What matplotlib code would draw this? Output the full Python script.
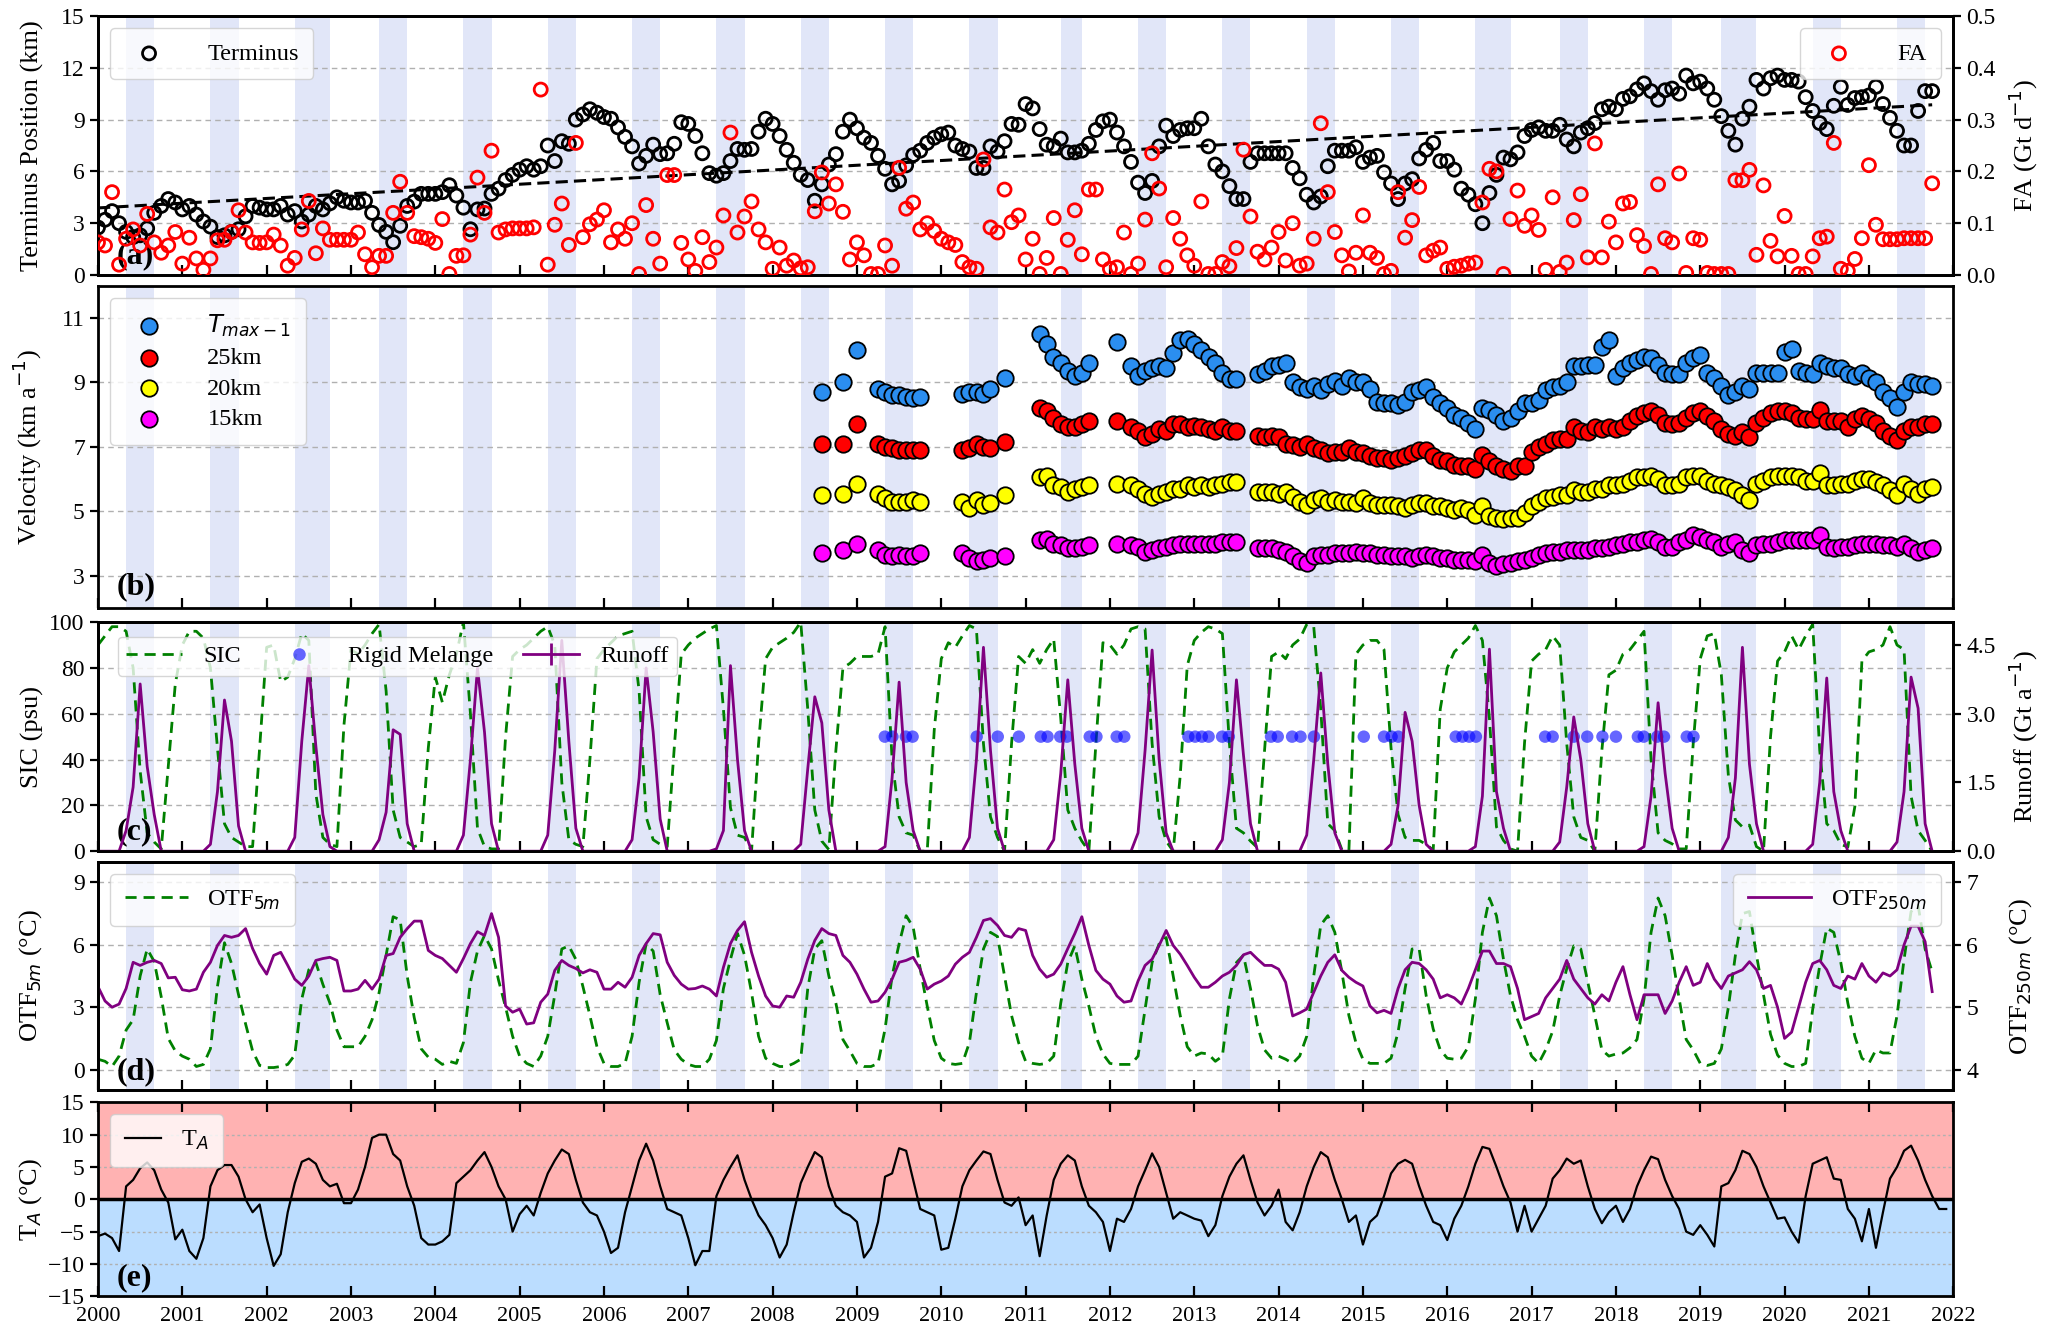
"""Five-panel glacier time series (terminus/FA, velocity, SIC/runoff, ocean temp, air temp)."""

import matplotlib
matplotlib.use("Agg")
import matplotlib.pyplot as plt
from matplotlib.lines import Line2D
import numpy as np

plt.rcParams["font.family"] = "serif"
plt.rcParams["font.serif"] = ["Liberation Serif", "DejaVu Serif"]
plt.rcParams["mathtext.fontset"] = "dejavusans"

START_YEAR = 2000
YEARS = list(range(2000, 2022))

# melt-season shading (first/last month, 1-based) per year
band_first_month = [5, 5, 5, 5, 5, 5, 5, 5, 5, 5, 5, 6, 5, 5, 5, 5, 5, 5, 5, 4, 5, 5]
band_last_month = [8, 8, 9, 8, 8, 8, 8, 8, 8, 8, 8, 8, 8, 8, 8, 8, 9, 8, 8, 8, 8, 8]

# (a) terminus position (km), monthly from Jan 2000
terminus = [
    2.75, 3.2, 3.7, 3.0, 2.5, 2.2, 2.3, 2.7, 3.6, 4.0, 4.4, 4.2,
    3.8, 4.0, 3.5, 3.1, 2.8, 2.2, 2.3, 2.5, 2.65, 3.4, 4.0, 3.9,
    3.8, 3.8, 4.0, 3.5, 3.7, 3.1, 3.5, 4.0, 3.8, 4.15, 4.5, 4.3,
    4.2, 4.2, 4.3, 3.6, 2.9, 2.5, 1.9, 2.85, 4.0, 4.25, 4.7, 4.7,
    4.7, 4.8, 5.2, 4.6, 3.9, 2.65, 3.8, 3.85, 4.7, 5.0, 5.5, 5.8,
    6.1, 6.3, 6.1, 6.3, 7.5, 6.6, 7.75, 7.6, 9.0, 9.3, 9.6, 9.4,
    9.15, 9.05, 8.55, 8.0, 7.45, 6.45, 6.9, 7.55, 7.0, 7.05, 7.6, 8.85,
    8.75, 8.05, 7.05, 5.9, 5.75, 5.9, 6.6, 7.3, 7.25, 7.3, 8.3, 9.05,
    8.75, 8.05, 7.25, 6.5, 5.8, 5.5, 4.3, 5.25, 6.4, 7.0, 8.3, 9.0,
    8.5, 7.95, 7.65, 6.9, 6.15, 5.25, 5.45, 6.35, 6.95, 7.2, 7.65, 7.95,
    8.15, 8.25, 7.5, 7.3, 7.15, 6.2, 6.2, 7.45, 7.15, 7.75, 8.75, 8.7,
    9.9, 9.65, 8.45, 7.55, 7.45, 7.9, 7.1, 7.1, 7.2, 7.6, 8.4, 8.9,
    9.0, 8.25, 7.45, 6.55, 5.35, 4.75, 5.45, 7.45, 8.65, 8.05, 8.4, 8.5,
    8.5, 9.05, 7.45, 6.4, 6.0, 5.15, 4.4, 4.4, 6.55, 7.05, 7.05, 7.05,
    7.05, 7.05, 6.2, 5.6, 4.65, 4.2, 4.55, 6.3, 7.2, 7.2, 7.2, 7.4,
    6.55, 6.8, 6.9, 5.95, 5.3, 4.4, 5.3, 5.55, 6.75, 7.25, 7.65, 6.6,
    6.6, 6.1, 5.0, 4.65, 4.1, 3.0, 4.75, 5.8, 6.8, 6.7, 7.1, 8.05,
    8.4, 8.55, 8.35, 8.35, 8.7, 7.85, 7.45, 8.25, 8.5, 8.8, 9.6, 9.75,
    9.6, 10.2, 10.35, 10.75, 11.1, 10.65, 10.15, 10.7, 10.8, 10.5, 11.55, 11.1,
    11.2, 10.8, 10.15, 9.2, 8.35, 7.55, 9.05, 9.75, 11.3, 10.8, 11.4, 11.55,
    11.3, 11.3, 11.2, 10.3, 9.5, 8.8, 8.45, 9.8, 10.9, 9.85, 10.25, 10.3,
    10.4, 10.9, 9.9, 9.1, 8.35, 7.5, 7.5, 9.5, 10.65, 10.65,
]

# (a) frontal ablation (Gt d-1), monthly from Jan 2000
fa = [
    .063, .057, .160, .020, .070, .088, .057, .118, .063, .043, .057, .083,
    .022, .072, .032, .010, .032, .067, .068, .083, .125, .082, .063, .062,
    .063, .078, .057, .018, .033, .088, .143, .042, .090, .068, .068, .068,
    .068, .082, .040, .015, .037, .037, .120, .180, .120, .075, .073, .070,
    .062, .108, .002, .037, .038, .078, .188, .120, .240, .082, .088, .090,
    .090, .090, .092, .358, .020, .097, .138, .058, .255, .073, .098, .107,
    .125, .063, .088, .070, .100, .002, .135, .070, .022, .193, .193, .062,
    .030, .008, .073, .025, .053, .115, .275, .082, .113, .142, .088, .063,
    .012, .053, .018, .028, .013, .015, .123, .198, .138, .175, .122, .030,
    .063, .038, .002, .002, .057, .018, .207, .128, .140, .088, .100, .085,
    .070, .063, .058, .025, .015, .012, .223, .092, .082, .165, .102, .115,
    .030, .070, .002, .033, .110, .002, .068, .125, .040, .165, .165, .030,
    .012, .015, .082, .002, .022, .107, .235, .167, .015, .110, .070, .038,
    .018, .142, .002, .002, .025, .017, .052, .242, .113, .045, .030, .053,
    .083, .028, .100, .018, .022, .070, .293, .160, .083, .038, .007, .043,
    .115, .043, .033, .002, .008, .160, .072, .106, .170, .038, .047, .053,
    .012, .016, .018, .022, .024, .140, .205, .200, .002, .108, .163, .095,
    .115, .087, .010, .150, .006, .024, .106, .156, .034, .254, .034, .103,
    .063, .138, .141, .077, .056, .002, .175, .071, .063, .196, .004, .071,
    .068, .004, .002, .002, .002, .183, .183, .203, .039, .173, .066, .036,
    .114, .037, .002, .002, .036, .071, .074, .255, .012, .008, .031, .071,
    .212, .097, .069, .069, .069, .071, .071, .071, .071, .177,
]

# (b) velocity (km a-1); early irregular epochs, then monthly from Oct 2013
vel_t_early = [
    2008.58, 2008.83, 2009.0,
    2009.25, 2009.33, 2009.42, 2009.5, 2009.58, 2009.67, 2009.75,
    2010.25, 2010.33, 2010.42, 2010.5, 2010.58, 2010.75,
    2011.17, 2011.25, 2011.33, 2011.42, 2011.5, 2011.58, 2011.67, 2011.75,
    2012.08, 2012.25, 2012.33, 2012.42, 2012.5, 2012.58, 2012.67, 2012.75, 2012.83,
    2012.92, 2013.0, 2013.08, 2013.17, 2013.25, 2013.33, 2013.42, 2013.5,
]
VEL_MONTHLY_START = 2013.75
v_tmax = [
    8.7, 9.0, 10.0,
    8.8, 8.7, 8.6, 8.6, 8.55, 8.5, 8.55,
    8.65, 8.7, 8.7, 8.65, 8.8, 9.15,
    10.5, 10.2, 9.8, 9.6, 9.35, 9.2, 9.3, 9.6,
    10.25, 9.5, 9.2, 9.35, 9.45, 9.5, 9.45, 9.9, 10.3,
    10.35, 10.2, 10.0, 9.8, 9.6, 9.3, 9.1, 9.1,
    9.25, 9.35, 9.5,
    9.55, 9.6, 9.0, 8.85, 8.8, 8.9, 8.75, 8.95, 9.05, 8.9, 9.15, 9.0,
    9.0, 8.8, 8.4, 8.35, 8.35, 8.3, 8.4, 8.7, 8.75, 8.85, 8.55, 8.35,
    8.2, 8.0, 7.9, 7.75, 7.55, 8.2, 8.15, 8.0, 7.8, 7.9, 8.1, 8.35,
    8.35, 8.45, 8.75, 8.85, 8.9, 9.0, 9.5, 9.5, 9.55, 9.55, 10.1, 10.3,
    9.2, 9.45, 9.6, 9.7, 9.8, 9.75, 9.55, 9.3, 9.25, 9.25, 9.6, 9.75,
    9.85, 9.3, 9.15, 8.9, 8.6, 8.7, 8.9, 8.8, 9.3, 9.3, 9.3, 9.3,
    9.95, 10.05, 9.35, 9.3, 9.25, 9.6, 9.5, 9.45, 9.45, 9.25, 9.2, 9.3,
    9.15, 9.0, 8.7, 8.5, 8.25, 8.7, 9.0, 8.95, 8.95, 8.9,
]
v_25km = [
    7.1, 7.1, 7.7,
    7.1, 7.0, 6.95, 6.9, 6.9, 6.9, 6.9,
    6.9, 6.95, 7.1, 7.0, 6.95, 7.15,
    8.2, 8.1, 7.9, 7.7, 7.6, 7.6, 7.7, 7.8,
    7.8, 7.6, 7.5, 7.3, 7.4, 7.55, 7.5, 7.7, 7.7,
    7.6, 7.65, 7.6, 7.55, 7.5, 7.6, 7.5, 7.5,
    7.35, 7.3, 7.35,
    7.3, 7.1, 7.05, 7.0, 7.1, 6.95, 6.9, 6.8, 6.85, 6.85, 6.95, 6.85,
    6.8, 6.7, 6.65, 6.65, 6.6, 6.65, 6.7, 6.8, 6.9, 6.9, 6.7, 6.6,
    6.55, 6.45, 6.4, 6.4, 6.3, 6.75, 6.55, 6.4, 6.3, 6.25, 6.4, 6.4,
    6.85, 7.0, 7.1, 7.2, 7.25, 7.25, 7.6, 7.5, 7.45, 7.6, 7.55, 7.6,
    7.55, 7.6, 7.8, 7.95, 8.05, 8.1, 8.0, 7.75, 7.7, 7.75, 7.9, 8.05,
    8.1, 7.95, 7.8, 7.55, 7.4, 7.35, 7.45, 7.3, 7.75, 7.9, 8.05, 8.1,
    8.1, 8.05, 7.9, 7.85, 7.85, 8.15, 7.8, 7.8, 7.8, 7.6, 7.85, 7.95,
    7.85, 7.75, 7.5, 7.35, 7.2, 7.5, 7.6, 7.6, 7.7, 7.7,
]
v_20km = [
    5.5, 5.55, 5.85,
    5.55, 5.4, 5.3, 5.3, 5.3, 5.35, 5.3,
    5.3, 5.1, 5.35, 5.2, 5.25, 5.5,
    6.05, 6.1, 5.8, 5.75, 5.6, 5.7, 5.75, 5.8,
    5.85, 5.8, 5.7, 5.55, 5.45, 5.55, 5.6, 5.7, 5.7,
    5.8, 5.75, 5.8, 5.75, 5.8, 5.85, 5.9, 5.9,
    5.6, 5.6, 5.6,
    5.55, 5.6, 5.45, 5.3, 5.2, 5.35, 5.4, 5.3, 5.35, 5.3, 5.3, 5.25,
    5.4, 5.25, 5.2, 5.2, 5.2, 5.15, 5.1, 5.2, 5.25, 5.25, 5.15, 5.15,
    5.1, 5.05, 5.1, 5.05, 4.9, 5.15, 4.85, 4.8, 4.75, 4.8, 4.8, 4.95,
    5.15, 5.3, 5.4, 5.45, 5.5, 5.5, 5.65, 5.6, 5.6, 5.7, 5.7, 5.8,
    5.8, 5.85, 5.95, 6.05, 6.05, 6.1, 6.0, 5.8, 5.8, 5.85, 6.05, 6.1,
    6.1, 5.95, 5.85, 5.8, 5.75, 5.65, 5.5, 5.35, 5.85, 5.95, 6.05, 6.1,
    6.1, 6.1, 6.05, 5.95, 5.95, 6.2, 5.8, 5.8, 5.85, 5.85, 5.95, 6.0,
    6.0, 5.9, 5.8, 5.65, 5.5, 5.85, 5.7, 5.55, 5.7, 5.75,
]
v_15km = [
    3.7, 3.8, 4.0,
    3.8, 3.65, 3.6, 3.65, 3.6, 3.6, 3.7,
    3.7, 3.55, 3.45, 3.5, 3.55, 3.6,
    4.1, 4.15, 4.0, 3.95, 3.85, 3.85, 3.9, 3.95,
    4.0, 3.95, 3.9, 3.75, 3.8, 3.85, 3.9, 3.95, 4.0,
    4.0, 4.0, 4.0, 4.0, 4.0, 4.05, 4.05, 4.05,
    3.85, 3.85, 3.85,
    3.8, 3.75, 3.6, 3.45, 3.4, 3.6, 3.65, 3.65, 3.7, 3.7, 3.7, 3.75,
    3.7, 3.7, 3.65, 3.65, 3.6, 3.6, 3.6, 3.55, 3.6, 3.65, 3.6, 3.55,
    3.55, 3.5, 3.5, 3.5, 3.45, 3.65, 3.4, 3.3, 3.35, 3.4, 3.45, 3.5,
    3.55, 3.65, 3.7, 3.75, 3.75, 3.8, 3.8, 3.8, 3.8, 3.85, 3.85, 3.9,
    3.95, 4.0, 4.05, 4.05, 4.1, 4.15, 4.05, 3.9, 3.9, 4.05, 4.1, 4.25,
    4.2, 4.1, 4.05, 3.9, 4.0, 4.05, 3.8, 3.7, 3.95, 4.0, 4.0, 4.05,
    4.1, 4.1, 4.1, 4.1, 4.1, 4.25, 3.9, 3.85, 3.9, 3.9, 3.95, 4.0,
    4.0, 4.0, 3.95, 3.95, 3.9, 4.0, 3.85, 3.75, 3.8, 3.85,
]

# (c) sea-ice concentration, monthly from Jan 2000
sic = [
    90, 94, 98, 98, 96, 80, 35, 8, 4, 1, 37, 73,
    90, 96, 96, 93, 80, 45, 12, 6, 4, 2, 2, 45,
    89, 90, 74, 76, 84, 95, 92, 25, 6, 3, 2, 55,
    88, 86, 90, 95, 99, 70, 18, 6, 4, 2, 3, 45,
    76, 65, 77, 86, 100, 60, 10, 2, 1, 1, 50, 85,
    88, 90, 93, 96, 98, 90, 30, 5, 3, 2, 40, 84,
    88, 91, 94, 95, 96, 70, 15, 5, 3, 2, 45, 86,
    90, 93, 95, 97, 98.5, 62, 19, 7, 6, 0, 47, 84,
    89, 91, 93, 95.5, 100, 62, 18, 4.4, 0.7, 44, 80, 82,
    85, 85, 85, 86, 98, 40, 15, 8, 7, 0, 0, 53,
    84, 91, 89, 94, 98.5, 97, 47, 15, 6, 0, 47, 85,
    82, 88, 82, 88, 92.6, 58, 18, 10, 4.4, 0, 47, 91,
    90, 86, 90, 97, 98, 97, 47, 15, 4.4, 0, 33, 81,
    92, 95.5, 98, 97, 95, 47, 10, 8, 4.4, 1.5, 44, 85,
    87, 84, 90, 92.6, 99, 98, 62, 12, 9, 0.7, 0, 86,
    90, 92, 92, 88, 45, 16, 6, 4.7, 4.7, 3, 0.5, 62,
    80, 87, 90, 93, 98.5, 92, 58, 10.6, 4.7, 1, 0, 47.5,
    83, 86, 88, 94, 90, 47, 15, 6, 4.7, 0, 44, 77,
    79, 86, 88, 92, 96, 40, 8, 4.7, 3.2, 1, 1, 47,
    84, 94, 95, 77, 33, 13.6, 10.6, 11.4, 2, 0, 50, 83,
    87, 94, 88, 94, 99, 44, 12, 9, 3, 1.8, 19.5, 83,
    87, 88, 90, 98, 90, 88, 24, 9, 4.7, 0,
]

# (c) runoff (Gt a-1), monthly from Jan 2000
runoff = [
    0, 0, 0, 0, 0.45, 1.4, 3.65, 1.85, 0.8, 0, 0, 0,
    0, 0, 0, 0, 0.15, 1.3, 3.3, 2.4, 0.55, 0, 0, 0,
    0, 0, 0, 0, 0.3, 2.4, 4.05, 2.3, 0.8, 0.1, 0, 0,
    0, 0, 0, 0, 0.25, 0.85, 2.65, 2.55, 0.6, 0, 0, 0,
    0, 0, 0, 0, 0.35, 2.0, 4.0, 2.6, 0.6, 0, 0, 0,
    0, 0, 0, 0, 0.35, 2.2, 4.6, 2.4, 0.5, 0, 0, 0,
    0, 0, 0, 0, 0.25, 1.6, 4.0, 2.6, 0.7, 0, 0, 0,
    0, 0, 0, 0, 0.05, 0.45, 4.05, 2.0, 0.45, 0, 0, 0,
    0, 0, 0, 0, 0.15, 1.8, 3.37, 2.8, 0.9, 0, 0, 0,
    0, 0, 0, 0, 0.1, 1.6, 3.69, 1.5, 0.45, 0, 0, 0,
    0, 0, 0, 0, 0.3, 2.0, 4.45, 2.2, 0.5, 0, 0, 0,
    0, 0, 0, 0, 0.25, 1.7, 3.74, 1.9, 0.5, 0, 0, 0,
    0, 0, 0, 0, 0.4, 2.2, 4.39, 2.0, 0.4, 0, 0, 0,
    0, 0, 0, 0, 0.25, 1.5, 3.74, 2.1, 0.6, 0, 0, 0,
    0, 0, 0, 0, 0.35, 2.0, 3.89, 1.9, 0.4, 0, 0, 0,
    0, 0, 0, 0, 0.15, 1.0, 3.03, 2.4, 1.0, 0.15, 0, 0,
    0, 0, 0, 0, 0.1, 1.2, 4.41, 1.3, 0.5, 0, 0, 0,
    0, 0, 0, 0, 0.2, 1.4, 2.93, 2.0, 0.6, 0, 0, 0,
    0, 0, 0, 0, 0.1, 1.2, 3.24, 1.7, 0.5, 0, 0, 0,
    0, 0, 0, 0, 0.3, 1.6, 4.45, 1.9, 0.6, 0, 0, 0,
    0, 0, 0, 0, 0.15, 1.5, 3.78, 1.3, 0.45, 0, 0, 0,
    0, 0, 0, 0, 0.2, 1.3, 3.8, 3.12, 0.6, 0,
]

# (c) dates with rigid melange present
melange_t = [
    2009.33, 2009.42, 2009.58, 2009.66,
    2010.42, 2010.67, 2010.92, 2011.18, 2011.26, 2011.41, 2011.49, 2011.76, 2011.84,
    2012.08, 2012.17, 2012.93, 2013.01, 2013.09, 2013.17, 2013.33, 2013.41,
    2013.91, 2013.99, 2014.16, 2014.26, 2014.42, 2015.01, 2015.25, 2015.34, 2015.42,
    2016.1, 2016.18, 2016.26, 2016.34, 2017.16, 2017.25, 2017.5, 2017.66, 2017.84,
    2018.0, 2018.26, 2018.33, 2018.49, 2018.57, 2018.84, 2018.92,
]
MELANGE_LEVEL = 50

# (d) ocean thermal forcing at 5 m and 250 m (degC), monthly from Jan 2000
otf_5m = [
    0.5, 0.4, 0.15, 0.65, 1.9, 2.4, 4.5, 5.8, 5.2, 3.5, 1.5, 0.9,
    0.65, 0.5, 0.15, 0.25, 1.0, 4.0, 6.1, 5.1, 3.6, 2.2, 0.9, 0.2,
    0.1, 0.1, 0.15, 0.25, 0.7, 3.4, 4.8, 5.15, 4.1, 3.2, 1.9, 1.1,
    1.1, 1.1, 1.6, 2.4, 3.7, 5.5, 7.35, 7.2, 4.5, 2.5, 1.0, 0.6,
    0.5, 0.25, 0.4, 0.3, 1.3, 4.2, 5.7, 6.45, 5.8, 4.3, 3.0, 1.6,
    0.65, 0.3, 0.15, 0.65, 1.6, 3.6, 5.8, 5.95, 5.3, 4.0, 2.6, 1.1,
    0.3, 0.15, 0.15, 0.3, 1.6, 4.2, 6.05, 5.7, 3.6, 2.25, 0.95, 0.5,
    0.25, 0.15, 0.15, 0.5, 1.4, 3.9, 5.3, 6.55, 5.5, 3.7, 1.6, 0.55,
    0.3, 0.15, 0.15, 0.3, 0.5, 3.9, 5.8, 6.2, 4.5, 3.2, 1.45, 0.9,
    0.3, 0.15, 0.15, 0.3, 1.95, 4.5, 6.05, 7.4, 6.85, 4.85, 3.05, 1.4,
    0.55, 0.3, 0.25, 0.3, 1.3, 3.7, 5.8, 6.6, 6.4, 4.5, 2.6, 1.3,
    0.4, 0.3, 0.25, 0.3, 0.65, 3.2, 5.15, 5.95, 4.35, 3.05, 1.6, 0.75,
    0.3, 0.25, 0.25, 0.25, 0.65, 2.9, 5.15, 6.05, 6.35, 4.5, 2.6, 1.1,
    0.65, 0.8, 0.75, 0.4, 0.65, 3.4, 5.15, 5.5, 3.9, 2.1, 0.95, 0.55,
    0.65, 0.5, 0.3, 0.65, 1.6, 4.5, 6.95, 7.4, 6.6, 4.7, 2.6, 1.3,
    0.5, 0.3, 0.3, 0.3, 0.55, 1.8, 3.9, 5.8, 5.8, 3.55, 1.95, 0.95,
    0.55, 0.5, 0.55, 1.1, 3.4, 6.6, 8.25, 7.4, 5.3, 3.55, 2.4, 1.6,
    0.65, 0.3, 0.95, 1.85, 3.55, 4.85, 5.95, 5.8, 4.2, 2.6, 0.95, 0.65,
    0.75, 0.8, 1.05, 1.45, 3.4, 6.6, 8.25, 7.4, 5.5, 3.4, 1.45, 0.95,
    0.3, 0.2, 0.3, 1.0, 3.0, 5.5, 7.5, 7.6, 5.5, 3.6, 1.7, 0.7,
    0.3, 0.15, 0.15, 0.3, 2.9, 5.0, 6.8, 6.6, 5.15, 3.2, 1.6, 0.55,
    0.3, 0.95, 0.8, 0.8, 2.6, 5.3, 7.6, 7.9, 5.8, 4.7,
]
otf_250m = [
    5.33, 5.1, 5.0, 5.05, 5.3, 5.72, 5.67, 5.72, 5.75, 5.7, 5.47, 5.48,
    5.28, 5.26, 5.29, 5.56, 5.72, 5.99, 6.15, 6.12, 6.15, 6.26, 5.94, 5.7,
    5.53, 5.83, 5.88, 5.67, 5.45, 5.35, 5.5, 5.75, 5.78, 5.8, 5.75, 5.26,
    5.26, 5.29, 5.43, 5.29, 5.45, 5.83, 5.86, 6.12, 6.26, 6.38, 6.38, 5.91,
    5.83, 5.78, 5.67, 5.56, 5.78, 6.02, 6.21, 6.15, 6.5, 6.12, 5.02, 4.92,
    4.97, 4.73, 4.75, 5.08, 5.21, 5.59, 5.75, 5.67, 5.62, 5.55, 5.6, 5.56,
    5.29, 5.29, 5.4, 5.32, 5.48, 5.83, 6.02, 6.18, 6.16, 5.72, 5.51, 5.37,
    5.29, 5.3, 5.34, 5.29, 5.18, 5.64, 6.02, 6.23, 6.37, 5.88, 5.5, 5.18,
    5.02, 5.0, 5.18, 5.16, 5.4, 5.77, 6.07, 6.26, 6.18, 6.15, 5.83, 5.72,
    5.53, 5.29, 5.08, 5.1, 5.24, 5.45, 5.72, 5.75, 5.8, 5.61, 5.29, 5.37,
    5.42, 5.5, 5.69, 5.8, 5.88, 6.12, 6.39, 6.42, 6.31, 6.15, 6.12, 6.26,
    6.23, 5.83, 5.61, 5.48, 5.53, 5.69, 5.94, 6.18, 6.45, 5.99, 5.59, 5.45,
    5.37, 5.18, 5.08, 5.1, 5.42, 5.67, 5.77, 5.99, 6.23, 5.99, 5.85, 5.67,
    5.48, 5.32, 5.32, 5.4, 5.5, 5.56, 5.67, 5.84, 5.88, 5.77, 5.67, 5.67,
    5.61, 5.4, 4.86, 4.91, 4.97, 5.24, 5.5, 5.72, 5.84, 5.59, 5.48, 5.4,
    5.34, 5.02, 4.91, 4.95, 4.9, 5.3, 5.6, 5.72, 5.7, 5.6, 5.45, 5.15,
    5.2, 5.15, 5.05, 5.3, 5.6, 5.9, 5.9, 5.7, 5.7, 5.65, 5.3, 4.8,
    4.85, 4.9, 5.15, 5.3, 5.45, 5.75, 5.45, 5.3, 5.15, 5.05, 5.2, 5.1,
    5.4, 5.65, 5.2, 4.8, 5.2, 5.2, 5.2, 4.9, 5.1, 5.4, 5.65, 5.35,
    5.4, 5.7, 5.45, 5.3, 5.5, 5.55, 5.6, 5.73, 5.6, 5.3, 5.35, 5.0,
    4.5, 4.6, 5.0, 5.4, 5.7, 5.75, 5.6, 5.35, 5.3, 5.5, 5.45, 5.7,
    5.5, 5.4, 5.55, 5.5, 5.6, 6.0, 6.3, 6.3, 6.05, 5.25,
]

# (e) air temperature (degC), monthly from Jan 2000
t_air = [
    -5.7, -5.3, -6.0, -8.0, 2.0, 3.0, 4.8, 5.7, 4.5, 1.5, -0.5, -6.2,
    -4.7, -8.0, -9.2, -6.0, 2.0, 4.5, 5.3, 5.3, 3.5, 0.0, -2.0, -0.8,
    -6.0, -10.3, -8.5, -2.0, 2.5, 5.8, 6.3, 5.5, 3.0, 2.0, 2.4, -0.6,
    -0.6, 1.5, 5.0, 9.5, 10.0, 10.0, 7.0, 6.0, 2.0, -1.0, -6.0, -7.0,
    -7.0, -6.5, -5.5, 2.5, 3.5, 4.5, 6.0, 7.3, 5.0, 2.0, 0.0, -5.0,
    -2.3, -1.0, -2.5, 1.0, 4.0, 6.0, 7.7, 7.0, 3.0, -0.5, -2.0, -2.5,
    -5.0, -8.3, -7.5, -2.0, 2.0, 6.0, 8.6, 6.0, 2.0, -1.5, -2.0, -2.5,
    -6.0, -10.2, -8.0, -8.0, 0.5, 3.0, 5.0, 6.8, 3.0, 0.0, -2.5, -4.0,
    -6.0, -9.0, -7.0, -2.0, 2.5, 5.0, 7.3, 6.5, 2.0, -1.0, -2.0, -2.5,
    -3.5, -9.0, -7.5, -3.5, 3.5, 4.0, 7.9, 7.5, 3.0, -1.5, -2.0, -2.5,
    -7.8, -7.5, -3.0, 2.0, 4.5, 6.0, 7.4, 7.0, 3.0, -0.5, -1.0, 0.3,
    -4.0, -2.5, -8.8, -2.5, 3.0, 5.5, 6.8, 6.0, 2.0, -1.0, -2.0, -3.5,
    -8.0, -3.0, -3.5, -1.5, 2.0, 4.5, 7.1, 5.0, 1.0, -3.0, -2.0, -2.5,
    -3.0, -3.3, -5.7, -4.0, 0.5, 3.5, 5.5, 6.8, 3.0, -0.5, -2.5, -1.0,
    1.5, -3.5, -4.8, -2.0, 2.0, 5.0, 7.3, 6.5, 3.0, 0.0, -3.5, -2.5,
    -7.0, -3.5, -2.5, 0.5, 4.0, 5.5, 6.1, 5.5, 2.0, -1.0, -3.5, -4.0,
    -6.3, -3.0, -1.0, 2.0, 5.5, 8.1, 7.8, 5.0, 2.0, -0.5, -5.0, -1.0,
    -5.0, -3.0, -1.0, 3.2, 4.5, 6.3, 5.5, 6.0, 2.0, -1.5, -3.7, -2.0,
    -1.0, -3.5, -1.5, 2.0, 4.5, 6.6, 6.2, 3.0, 0.5, -1.5, -5.0, -5.5,
    -4.0, -5.5, -7.3, 2.0, 2.5, 4.5, 7.5, 7.0, 5.0, 2.0, -0.5, -3.0,
    -2.8, -5.0, -6.7, 0.5, 5.5, 6.0, 6.5, 3.2, 3.0, -1.5, -3.0, -6.5,
    -1.5, -7.5, -2.0, 3.2, 5.0, 7.5, 8.3, 6.0, 3.0, 0.5, -1.5, -1.5,
]

BAND = "#e1e6f8"
GRID = "#b0b0b0"
TICK_FS = 17
XTICK_FS = 16
LABEL_FS = 19
LEGEND_FS = 17.5

LEFT, WIDTH = 0.0478, 0.905
RECTS = {
    "a": [LEFT, 0.794, WIDTH, 0.194],
    "b": [LEFT, 0.5446, WIDTH, 0.2414],
    "c": [LEFT, 0.3624, WIDTH, 0.1716],
    "d": [LEFT, 0.1832, WIDTH, 0.1714],
    "e": [LEFT, 0.0290, WIDTH, 0.1453],
}


def monthly_time(values):
    return START_YEAR + np.arange(len(values)) / 12.0


def shade_melt(ax):
    for yr, m0, m1 in zip(YEARS, band_first_month, band_last_month):
        ax.axvspan(yr + (m0 - 1) / 12.0, yr + m1 / 12.0, color=BAND, lw=0, zorder=0)


def style_axis(ax, show_xlabels=False):
    ax.set_xlim(2000, 2022)
    ax.set_xticks(range(2000, 2023))
    ax.tick_params(axis="x", direction="in", length=7, width=1.6,
                   labelbottom=show_xlabels, labelsize=XTICK_FS, pad=8)
    ax.tick_params(axis="y", direction="out", length=6, width=1.6, labelsize=TICK_FS)
    for sp in ax.spines.values():
        sp.set_linewidth(2.0)
    ax.grid(axis="y", color=GRID, ls=(0, (4, 3)), lw=1.0)
    ax.set_axisbelow(True)


def style_twin(ax):
    ax.tick_params(axis="y", direction="out", length=6, width=1.6, labelsize=TICK_FS)
    for sp in ax.spines.values():
        sp.set_linewidth(2.0)


def panel_label(ax, txt):
    ax.text(0.010, 0.02, txt, transform=ax.transAxes, fontsize=23,
            fontweight="bold", va="bottom", ha="left", zorder=10)


def left_label(ax, txt):
    ax.set_ylabel(txt, fontsize=LABEL_FS)
    ax.yaxis.set_label_coords(-0.029, 0.5)


def right_label(ax, txt):
    ax.set_ylabel(txt, fontsize=LABEL_FS)
    ax.yaxis.set_label_coords(1.029, 0.5)


fig = plt.figure(figsize=(20.5, 13.35), dpi=100)

# ---- (a) terminus position + frontal ablation
ax_a = fig.add_axes(RECTS["a"])
shade_melt(ax_a)
t_term = monthly_time(terminus)
ax_a.scatter(t_term, terminus, s=88, facecolors="none", edgecolors="black",
             linewidths=2.0, zorder=3, label="Terminus")
coef = np.polyfit(t_term, terminus, 1)
ends = t_term[[0, -1]]
ax_a.plot(ends, np.polyval(coef, ends), ls=(0, (4, 2)), color="black", lw=2.2, zorder=4)
ax_a.set_ylim(0, 15)
ax_a.set_yticks(range(0, 16, 3))
style_axis(ax_a)
left_label(ax_a, "Terminus Position (km)")
ax_a.legend(loc="upper left", fontsize=LEGEND_FS, handletextpad=1.4, borderpad=0.6)
panel_label(ax_a, "(a)")

ax_a2 = ax_a.twinx()
ax_a2.scatter(monthly_time(fa), fa, s=88, facecolors="none", edgecolors="red",
              linewidths=2.0, zorder=3, label="FA")
ax_a2.set_ylim(0, 0.5)
ax_a2.set_yticks(np.arange(0, 0.51, 0.1))
ax_a2.set_yticklabels([f"{v:.1f}" for v in np.arange(0, 0.51, 0.1)])
style_twin(ax_a2)
right_label(ax_a2, "FA (Gt d$^{-1}$)")
ax_a2.legend(loc="upper right", fontsize=LEGEND_FS, handletextpad=1.4, borderpad=0.6)

# ---- (b) velocity
ax_b = fig.add_axes(RECTS["b"], sharex=ax_a)
shade_melt(ax_b)
n_late = len(v_tmax) - len(vel_t_early)
vel_t = np.concatenate([vel_t_early, VEL_MONTHLY_START + np.arange(n_late) / 12.0])
for vals, col, lab in [
    (v_tmax, "#2b8ef0", r"$T_{max-1}$"),
    (v_25km, "#ff0000", "25km"),
    (v_20km, "#ffff00", "20km"),
    (v_15km, "#ff00ff", "15km"),
]:
    ax_b.scatter(vel_t, vals, s=140, c=col, edgecolors="black", linewidths=1.3,
                 zorder=3, label=lab)
ax_b.set_ylim(2, 12)
ax_b.set_yticks([3, 5, 7, 9, 11])
style_axis(ax_b)
left_label(ax_b, "Velocity (km a$^{-1}$)")
ax_b.legend(loc="upper left", fontsize=LEGEND_FS, handletextpad=1.4, borderpad=0.6,
            labelspacing=0.35)
panel_label(ax_b, "(b)")

# ---- (c) sea ice, melange, runoff
ax_c = fig.add_axes(RECTS["c"], sharex=ax_a)
shade_melt(ax_c)
ax_c.plot(monthly_time(sic), sic, color="green", ls=(0, (4, 2.5)), lw=2.0, zorder=2)
ax_c.scatter(melange_t, np.full(len(melange_t), MELANGE_LEVEL), s=80, color="blue",
             alpha=0.6, edgecolors="none", zorder=3)
ax_c.set_ylim(0, 100)
ax_c.set_yticks(range(0, 101, 20))
style_axis(ax_c)
left_label(ax_c, "SIC (psu)")
panel_label(ax_c, "(c)")

ax_c2 = ax_c.twinx()
ax_c2.plot(monthly_time(runoff), runoff, color="purple", lw=2.0, zorder=2)
ax_c2.set_ylim(0, 5)
ax_c2.set_yticks([0, 1.5, 3.0, 4.5])
ax_c2.set_yticklabels(["0.0", "1.5", "3.0", "4.5"])
style_twin(ax_c2)
right_label(ax_c2, "Runoff (Gt a$^{-1}$)")
handles_c = [
    Line2D([], [], color="green", ls=(0, (4, 2.5)), lw=2.0),
    Line2D([], [], color="blue", alpha=0.6, marker="o", ls="none", markersize=9,
           markeredgewidth=0),
    Line2D([], [], color="purple", lw=2.0, marker="|", markersize=16, markeredgewidth=2),
]
ax_c2.legend(handles_c, ["SIC", "Rigid Melange", "Runoff"], loc="upper left",
             bbox_to_anchor=(0.004, 0.99), ncol=3, fontsize=LEGEND_FS,
             handlelength=2.3, handletextpad=0.9, columnspacing=1.2, borderpad=0.35)

# ---- (d) ocean thermal forcing
ax_d = fig.add_axes(RECTS["d"], sharex=ax_a)
shade_melt(ax_d)
ax_d.plot(monthly_time(otf_5m), otf_5m, color="green", ls=(0, (4, 2.5)), lw=2.0,
          zorder=2, label="OTF$_{5m}$")
ax_d.set_ylim(-1, 10)
ax_d.set_yticks([0, 3, 6, 9])
style_axis(ax_d)
left_label(ax_d, "OTF$_{5m}$ (°C)")
ax_d.legend(loc="upper left", fontsize=LEGEND_FS, handlelength=2.6, borderpad=0.6)
panel_label(ax_d, "(d)")

ax_d2 = ax_d.twinx()
ax_d2.plot(monthly_time(otf_250m), otf_250m, color="purple", lw=2.0, zorder=2,
           label="OTF$_{250m}$")
ax_d2.set_ylim(4 - 1 / 3, 4 + 10 / 3)
ax_d2.set_yticks([4, 5, 6, 7])
style_twin(ax_d2)
right_label(ax_d2, "OTF$_{250m}$ (°C)")
ax_d2.legend(loc="upper right", fontsize=LEGEND_FS, handlelength=2.6, borderpad=0.6)

# ---- (e) air temperature
ax_e = fig.add_axes(RECTS["e"], sharex=ax_a)
ax_e.axhspan(0, 15, color="red", alpha=0.3, lw=0, zorder=0)
ax_e.axhspan(-15, 0, color="#1e90ff", alpha=0.3, lw=0, zorder=0)
ax_e.plot(monthly_time(t_air), t_air, color="black", lw=1.6, zorder=3, label="T$_A$")
ax_e.axhline(0, color="black", lw=2.5, zorder=2)
ax_e.set_ylim(-15, 15)
ax_e.set_yticks(range(-15, 16, 5))
style_axis(ax_e, show_xlabels=True)
ax_e.tick_params(axis="x", top=True)
ax_e.grid(axis="y", color=GRID, ls=(0, (2, 2)), lw=1.0)
left_label(ax_e, "T$_A$ (°C)")
ax_e.legend(loc="upper left", fontsize=LEGEND_FS, handlelength=1.5, borderpad=0.6)
panel_label(ax_e, "(e)")

for ax in (ax_a, ax_b, ax_c, ax_d):
    ax.tick_params(axis="x", labelbottom=False)

fig.savefig("out.png", dpi=100)
